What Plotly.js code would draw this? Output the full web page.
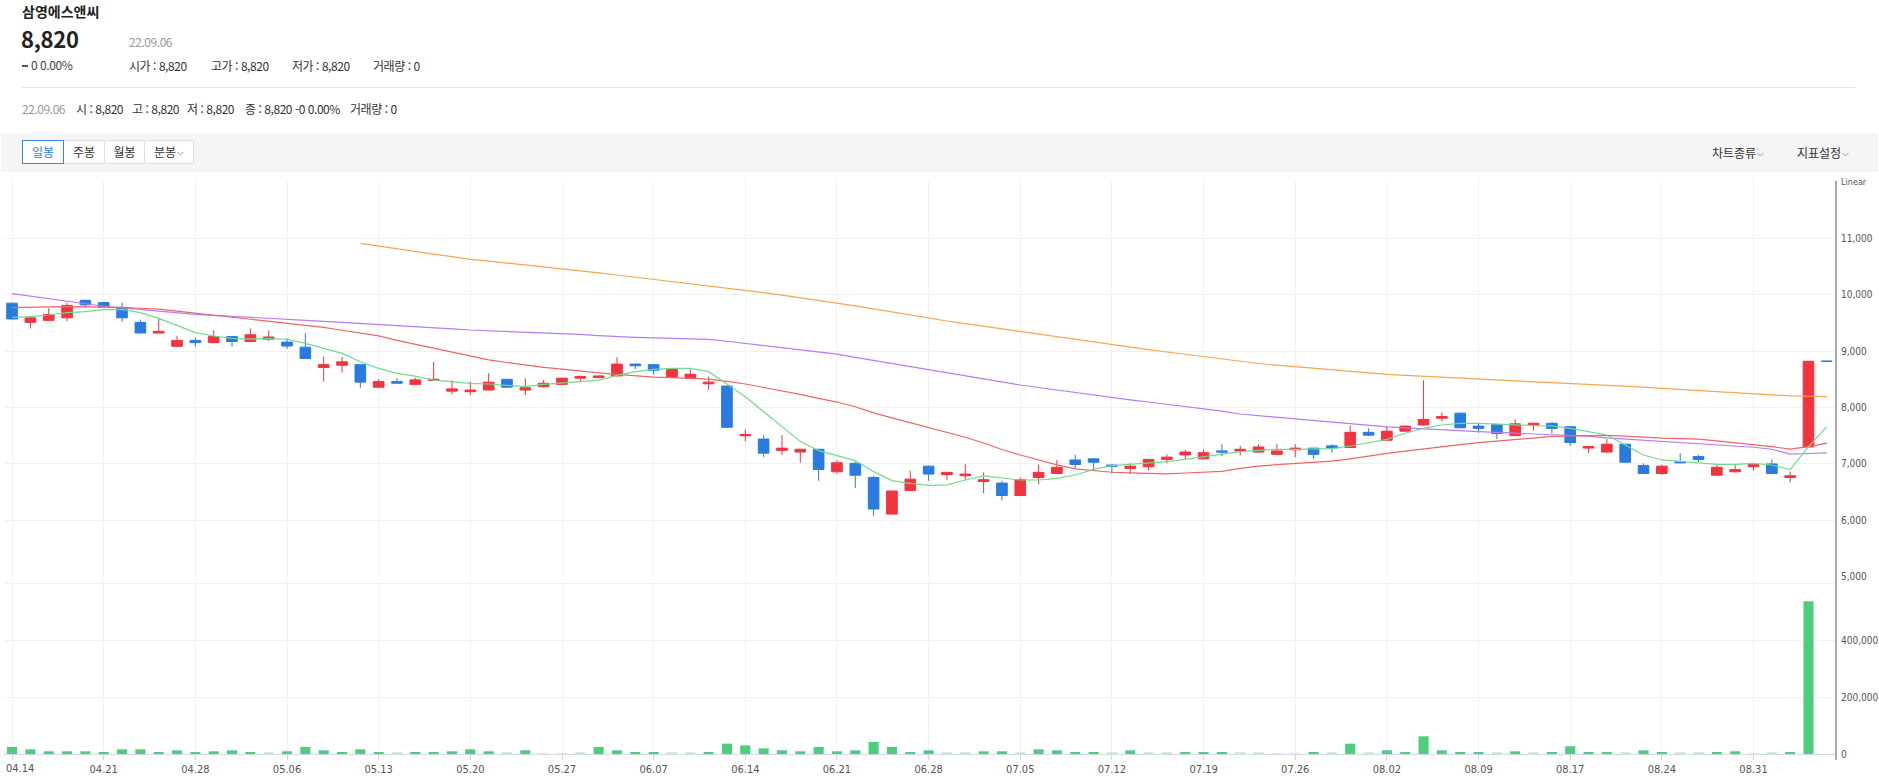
<!DOCTYPE html>
<html lang="ko">
<head>
<meta charset="utf-8">
<script src="https://cdn.plot.ly/plotly-3.0.1.min.js"></script>
<style>
html,body{margin:0;padding:0;background:#fff;}
body{width:1879px;height:779px;overflow:hidden;position:relative;font-family:"Noto Sans CJK KR","Noto Sans",sans-serif;color:#333;}
.a{position:absolute;white-space:nowrap;line-height:1;font-size:12px;letter-spacing:-0.45px;}
.g{color:#9a9a9a;}
#sep{position:absolute;left:22px;top:87px;width:1833px;height:1px;background:#e4e4e4;}
#band{position:absolute;left:1px;top:133px;width:1877px;height:39px;background:#f5f5f5;}
.btn{position:absolute;top:140px;height:24px;box-sizing:border-box;border:1px solid #dedede;background:#fff;font-size:12px;line-height:22px;text-align:center;color:#333;}
.sel{border-color:#3a86ee;color:#2f7be6;z-index:2;}
.chev{display:inline-block;width:7px;height:5px;margin-left:1px;vertical-align:1px;}
#chart{position:absolute;left:0;top:172px;width:1879px;height:607px;}
.dash{display:inline-block;width:6px;height:2px;background:#555;vertical-align:3px;margin-right:3px;}
</style>
</head>
<body>
<div class="a" style="left:22px;top:4px;font-size:14px;font-weight:bold;color:#222;letter-spacing:0;">삼영에스앤씨</div>
<div class="a" style="left:21px;top:27px;font-size:22px;font-weight:bold;color:#222;letter-spacing:-0.3px;">8,820</div>
<div class="a g" style="left:129px;top:36px;">22.09.06</div>
<div class="a" style="left:22px;top:59px;color:#444;"><span class="dash"></span>0 0.00%</div>
<div class="a" style="left:129px;top:60px;">시가 : 8,820</div>
<div class="a" style="left:211px;top:60px;">고가 : 8,820</div>
<div class="a" style="left:292px;top:60px;">저가 : 8,820</div>
<div class="a" style="left:373px;top:60px;">거래량 : 0</div>
<div id="sep"></div>
<div class="a g" style="left:22px;top:103px;">22.09.06</div>
<div class="a" style="left:76px;top:103px;">시 : 8,820</div>
<div class="a" style="left:132px;top:103px;">고 : 8,820</div>
<div class="a" style="left:187px;top:103px;">저 : 8,820</div>
<div class="a" style="left:245px;top:103px;">종 : 8,820 -0 0.00%</div>
<div class="a" style="left:350px;top:103px;">거래량 : 0</div>
<div id="band"></div>
<div class="btn sel" style="left:22px;width:42px;">일봉</div>
<div class="btn" style="left:63px;width:42px;">주봉</div>
<div class="btn" style="left:104px;width:41px;">월봉</div>
<div class="btn" style="left:144px;width:50px;">분봉<svg class="chev" viewBox="0 0 7 5"><polyline points="0.5,0.8 3.5,4 6.5,0.8" fill="none" stroke="#999" stroke-width="0.9"/></svg></div>
<div class="a" style="left:1712px;top:147px;letter-spacing:0;">차트종류<svg class="chev" viewBox="0 0 7 5"><polyline points="0.5,0.8 3.5,4 6.5,0.8" fill="none" stroke="#999" stroke-width="0.9"/></svg></div>
<div class="a" style="left:1797px;top:147px;letter-spacing:0;">지표설정<svg class="chev" viewBox="0 0 7 5"><polyline points="0.5,0.8 3.5,4 6.5,0.8" fill="none" stroke="#999" stroke-width="0.9"/></svg></div>
<div id="chart"></div>
<script>
const dates = ["04.14","04.15","04.18","04.19","04.20","04.21","04.22","04.25","04.26","04.27","04.28","04.29",
"05.02","05.03","05.04","05.06","05.09","05.10","05.11","05.12","05.13","05.16","05.17","05.18","05.19","05.20","05.23","05.24","05.25","05.26","05.27","05.30","05.31",
"06.02","06.03","06.07","06.08","06.09","06.10","06.13","06.14","06.15","06.16","06.17","06.20","06.21","06.22","06.23","06.24","06.27","06.28","06.29","06.30",
"07.01","07.04","07.05","07.06","07.07","07.08","07.11","07.12","07.13","07.14","07.15","07.18","07.19","07.20","07.21","07.22","07.25","07.26","07.27","07.28","07.29",
"08.01","08.02","08.03","08.04","08.05","08.08","08.09","08.10","08.11","08.12","08.16","08.17","08.18","08.19","08.22","08.23","08.24","08.25","08.26","08.29","08.30","08.31",
"09.01","09.02","09.05","09.06"];

const open = [9850,9510,9545,9590,9900,9860,9770,9510,9320,9085,9190,9150,9260,9170,9210,9160,9070,8710,8750,8760,
8360,8460,8410,8480,8290,8280,8310,8500,8310,8370,8410,8520,8530,8560,8770,8760,8535,8520,8420,8380,
7500,7440,7240,7210,7260,6860,7010,6760,6110,6530,6960,6810,6790,6690,6660,6440,6760,6830,7070,7090,
6980,6920,6950,7080,7160,7090,7230,7230,7210,7170,7250,7280,7320,7290,7560,7420,7580,7690,7810,7900,
7670,7700,7500,7690,7720,7660,7280,7210,7350,6970,6830,7040,7130,6800,6860,6950,7000,6760,7300,8820];
const high = [9860,9600,9760,9860,9910,9870,9860,9560,9580,9270,9240,9370,9260,9400,9370,9230,9320,8900,8900,8760,
8500,8520,8530,8810,8480,8460,8610,8510,8520,8490,8530,8570,8570,8890,8780,8770,8690,8680,8550,8390,
7610,7510,7510,7260,7260,7070,7040,6790,6520,6880,6970,6860,7000,6850,6700,6760,6990,7070,7160,7090,
6990,7010,7090,7170,7250,7260,7350,7320,7350,7350,7350,7280,7350,7680,7630,7670,7680,8480,7910,7910,
7720,7710,7790,7730,7740,7670,7310,7440,7350,7010,6990,7190,7160,6980,6980,7010,7080,6860,8820,8820];
const low = [9560,9400,9540,9530,9770,9770,9520,9320,9320,9070,9080,9140,9080,9160,9180,9040,8870,8460,8620,8350,
8360,8420,8410,8470,8230,8220,8300,8360,8220,8350,8400,8450,8530,8550,8680,8580,8530,8520,8310,7640,
7400,7120,7160,7020,6700,6830,6570,6080,6110,6520,6700,6710,6710,6480,6350,6430,6640,6830,6920,6900,
6830,6820,6880,7010,7080,7090,7140,7150,7200,7170,7120,7090,7200,7290,7490,7420,7580,7680,7750,7640,
7550,7440,7500,7590,7540,7320,7200,7200,7030,6830,6810,7020,7030,6790,6850,6880,6830,6670,7300,8820];
const close = [9570,9590,9650,9810,9820,9780,9590,9320,9350,9190,9150,9260,9170,9290,9250,9090,8870,8760,8810,8450,
8460,8430,8490,8500,8330,8310,8450,8360,8350,8430,8520,8550,8560,8770,8740,8660,8680,8590,8450,7650,
7520,7190,7280,7260,6900,7020,6800,6200,6520,6730,6820,6850,6820,6720,6440,6720,6850,6940,6990,7030,
6960,6960,7080,7120,7210,7200,7210,7260,7300,7230,7280,7170,7280,7560,7510,7580,7670,7790,7840,7640,
7630,7540,7710,7720,7630,7380,7310,7350,7030,6830,6960,7020,7080,6940,6900,6990,6830,6790,8820,8820];
const volume = [24700,16600,9500,9500,9500,7000,16600,16600,7000,13000,7000,9500,13000,7000,5900,9500,24700,13000,7000,16600,
7000,5900,7000,7000,9500,16600,9500,5900,13000,2400,2400,5900,24700,13000,7000,7000,5900,5900,7000,36400,
30500,20000,13000,9500,24700,9500,13000,42300,24700,7000,13000,5900,5900,9500,9500,5900,16600,13000,7000,7000,
5900,13000,5900,5900,7000,7000,7000,5900,5900,2400,2400,7000,5900,36400,5900,13000,7000,62400,13000,7000,
7000,5900,9500,5900,7000,27200,7000,7000,5900,13000,7000,5900,5900,7000,9500,2400,5900,7000,538600,0];

const ma5 = [9598,9610,9640,9681,9699,9735,9740,9681,9581,9457,9327,9268,9226,9214,9220,9210,9138,9049,8960,8812,
8694,8606,8558,8487,8458,8428,8417,8393,8369,8410,8440,8458,8487,8570,8635,8677,8694,8694,8635,8417,
8192,7926,7660,7400,7235,7141,7058,6863,6703,6656,6620,6627,6715,6786,6745,6715,6715,6745,6804,6904,
6969,6993,7011,7040,7082,7129,7176,7218,7240,7259,7259,7259,7271,7318,7377,7436,7543,7631,7690,7720,
7720,7702,7690,7679,7673,7631,7572,7513,7336,7158,7070,7040,7011,6993,6993,7011,6981,6900,7306,7661];
const ma20 = [9770,9782,9785,9788,9788,9788,9775,9760,9746,9710,9670,9630,9600,9565,9530,9492,9455,9420,9370,9320,
9270,9190,9120,9051,8977,8905,8846,8798,8748,8710,8679,8643,8613,8587,8561,8540,8531,8522,8504,8464,
8417,8355,8295,8233,8161,8097,8014,7906,7815,7730,7645,7560,7473,7370,7255,7158,7067,6984,6911,6880,
6852,6841,6831,6824,6839,6848,6869,6922,6961,6986,7009,7025,7048,7090,7143,7186,7227,7270,7312,7343,
7376,7405,7437,7467,7488,7497,7502,7506,7493,7473,7457,7449,7439,7408,7378,7348,7306,7262,7305,7368];
const ma60 = [10020,9975,9930,9885,9840,9795,9765,9735,9710,9680,9652,9635,9615,9595,9580,9563,9545,9527,9510,9492,
9478,9455,9435,9415,9395,9374,9362,9350,9338,9326,9315,9295,9275,9256,9245,9235,9226,9217,9208,9175,
9138,9100,9062,9024,8986,8948,8890,8835,8775,8720,8665,8610,8560,8505,8450,8399,8355,8310,8265,8220,
8174,8135,8098,8060,8022,7985,7935,7885,7855,7825,7796,7768,7740,7712,7684,7655,7640,7620,7605,7590,
7572,7560,7548,7536,7525,7513,7490,7460,7440,7418,7395,7375,7355,7335,7315,7295,7260,7175,7185,7197];
const ma120 = [null,null,null,null,null,null,null,null,null,null,null,null,null,null,null,null,null,null,null,10910,
10860,10810,10765,10720,10675,10627,10595,10562,10530,10498,10467,10428,10388,10349,10311,10273,10235,10197,10159,10121,
10083,10038,9993,9948,9903,9859,9803,9748,9692,9637,9581,9534,9486,9439,9391,9344,9297,9250,9202,9155,
9108,9067,9025,8984,8942,8901,8855,8812,8780,8750,8721,8694,8668,8641,8614,8588,8570,8552,8535,8517,
8499,8485,8471,8456,8442,8428,8412,8395,8378,8360,8340,8320,8300,8280,8259,8239,8220,8206,8200,8194];

const priceTicks = [5000,6000,7000,8000,9000,10000,11000,12000];
const priceTickText = ["5,000","6,000","7,000","8,000","9,000","10,000","11,000",""];
const volTicks = [0,200000,400000,600000];
const volTickText = ["0","200,000","400,000",""];

const RED = '#f2343f', BLUE = '#2a7be0';
const n = dates.length;
const last = n - 1;
const tickFamily = '"Liberation Sans Narrow","DejaVu Sans Condensed","Arial Narrow",sans-serif';
const tickFont = {family:tickFamily, size:10, color:'#555'};

const traces = [
 {type:'candlestick', x:dates.slice(0,last), open:open.slice(0,last), high:high.slice(0,last), low:low.slice(0,last), close:close.slice(0,last),
  increasing:{line:{color:RED,width:1}, fillcolor:RED}, decreasing:{line:{color:BLUE,width:1}, fillcolor:BLUE},
  whiskerwidth:0, hoverinfo:'skip', xaxis:'x', yaxis:'y'},
 {type:'candlestick', x:dates.slice(last), open:open.slice(last), high:high.slice(last), low:low.slice(last), close:close.slice(last),
  increasing:{line:{color:BLUE,width:1}, fillcolor:BLUE}, decreasing:{line:{color:BLUE,width:1}, fillcolor:BLUE},
  whiskerwidth:0, hoverinfo:'skip', xaxis:'x', yaxis:'y'},
 {type:'scatter', mode:'lines', x:dates, y:ma120, line:{color:'#f5a54f', width:1.2}, hoverinfo:'skip', xaxis:'x', yaxis:'y'},
 {type:'scatter', mode:'lines', x:dates, y:ma60, line:{color:'#b67cf2', width:1.2}, hoverinfo:'skip', xaxis:'x', yaxis:'y'},
 {type:'scatter', mode:'lines', x:dates, y:ma20, line:{color:'#ef6565', width:1.2}, hoverinfo:'skip', xaxis:'x', yaxis:'y'},
 {type:'scatter', mode:'lines', x:dates, y:ma5, line:{color:'#72da8c', width:1.2}, hoverinfo:'skip', xaxis:'x', yaxis:'y'},
 {type:'bar', x:dates, y:volume, marker:{color:volume.map(v => v < 6000 ? '#bde9cc' : '#4dce7b'), line:{width:0}}, hoverinfo:'skip', xaxis:'x', yaxis:'y2'}
];

const tickDates = dates.filter((d,i) => i % 5 === 0);
const tickLabels = tickDates.map((d,i) => i === 0 ? '' : d);

const layout = {
 width:1879, height:607,
 margin:{l:4, r:43, t:9, b:25},
 paper_bgcolor:'#fff', plot_bgcolor:'#fff',
 showlegend:false,
 boxgap:0.42, boxgroupgap:0, bargap:0.45,
 font:tickFont,
 xaxis:{type:'category', categoryorder:'array', categoryarray:dates, range:[-0.44, 99.5],
  tickmode:'array', tickvals:tickDates, ticktext:tickLabels,
  showgrid:true, gridcolor:'#f1f1f3', gridwidth:1, zeroline:false,
  ticks:'outside', ticklen:5, tickcolor:'#cdd4de', showline:true, linecolor:'#d3dae4', linewidth:1,
  tickfont:{family:tickFamily, size:11, color:'#555'}, anchor:'y2',
  rangeslider:{visible:false}, fixedrange:true},
 yaxis:{domain:[0.3094,1], range:[5000,12016], side:'right', anchor:'x',
  tickmode:'array', tickvals:priceTicks, ticktext:priceTickText,
  showgrid:true, gridcolor:'#f1f1f1', zeroline:false, showline:false, ticks:'',
  ticklabelstandoff:4, tickfont:tickFont, fixedrange:true},
 yaxis2:{domain:[0,0.3019], range:[0,610000], side:'right', anchor:'x',
  tickmode:'array', tickvals:volTicks, ticktext:volTickText,
  showgrid:true, gridcolor:'#f1f1f1', zeroline:false, showline:false, ticks:'',
  ticklabelstandoff:4, tickfont:tickFont, fixedrange:true},
 shapes:[{type:'line', xref:'paper', yref:'paper', x0:1, x1:1, y0:-0.01, y1:1, line:{color:'#555', width:1}}],
 annotations:[
  {xref:'paper', yref:'paper', x:1, y:1, xanchor:'left', yanchor:'middle', xshift:3, yshift:-1,
   text:'Linear', showarrow:false, font:{family:tickFamily, size:9, color:'#555'}},
  {xref:'x', yref:'paper', x:dates.indexOf(tickDates[0]), y:0, xanchor:'left', yanchor:'middle', xshift:-8, yshift:-14,
   text:tickDates[0], showarrow:false, font:{family:tickFamily, size:11, color:'#555'}}
 ]
};

Plotly.newPlot('chart', traces, layout, {displayModeBar:false, staticPlot:true});
</script>
</body>
</html>
